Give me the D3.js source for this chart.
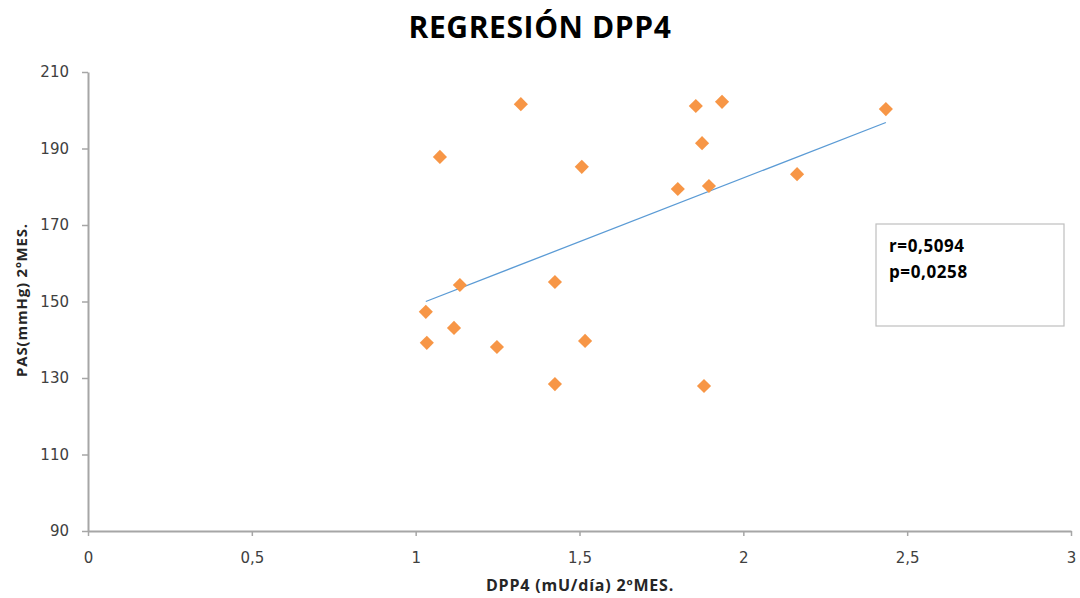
<!DOCTYPE html>
<html>
<head>
<meta charset="utf-8">
<script src="https://cdn.jsdelivr.net/npm/d3@7"></script>
<style>
  body { margin: 0; background: #fff; }
  svg { font-family: "Open Sans", "Liberation Sans", sans-serif; }
</style>
</head>
<body>
<svg width="1080" height="598"></svg>
<script>
// values
const dpp4 = [1.321, 1.855, 1.935, 2.435, 1.074, 1.874, 1.507, 1.800, 1.895, 2.164,
              1.135, 1.425, 1.031, 1.117, 1.034, 1.248, 1.517, 1.425, 1.880];
const pas = [201.6, 201.1, 202.2, 200.3, 187.8, 191.4, 185.2, 179.4, 180.2, 183.3,
             154.3, 155.1, 147.3, 143.1, 139.2, 138.1, 139.7, 128.4, 127.9];
const trendX = [1.031, 2.435];
const trendY = [150.0, 196.8];
const xTicks = [0, 0.5, 1, 1.5, 2, 2.5, 3];
const yTicks = [90, 110, 130, 150, 170, 190, 210];
const stats = ["r=0,5094", "p=0,0258"];

const svg = d3.select("svg");
const plotLeft = 88, plotRight = 1071, plotTop = 72, plotBottom = 531;

const x = d3.scaleLinear().domain([0, 3]).range([plotLeft, plotRight]);
const y = d3.scaleLinear().domain([90, 210]).range([plotBottom, plotTop]);
const fmt = d => String(d).replace(".", ",");

// axes
const xAxis = svg.append("g")
    .attr("transform", `translate(0,${plotBottom})`)
    .call(d3.axisBottom(x).tickValues(xTicks).tickFormat(fmt).tickSize(5).tickSizeOuter(0));
const yAxis = svg.append("g")
    .attr("transform", `translate(${plotLeft},0)`)
    .call(d3.axisLeft(y).tickValues(yTicks).tickSize(6).tickSizeOuter(0));

[xAxis, yAxis].forEach(a => {
  a.select(".domain").attr("stroke", "#a6a6a6").attr("stroke-width", 2);
  a.selectAll(".tick line").attr("stroke", "#a6a6a6").attr("stroke-width", 1.5);
  a.selectAll(".tick text").attr("fill", "#404040").attr("font-size", 15)
    .attr("font-family", "DejaVu Sans, sans-serif");
});
xAxis.selectAll(".tick text").attr("y", 21);
yAxis.selectAll(".tick text").attr("x", -19);

// trendline
svg.append("line")
    .attr("x1", x(trendX[0])).attr("y1", y(trendY[0]))
    .attr("x2", x(trendX[1])).attr("y2", y(trendY[1]))
    .attr("stroke", "#5b9bd5").attr("stroke-width", 1.3);

// points
svg.append("g").selectAll("path")
  .data(dpp4.map((d, i) => [d, pas[i]]))
  .join("path")
    .attr("d", d3.symbol(d3.symbolSquare, 100))
    .attr("transform", d => `translate(${x(d[0])},${y(d[1])}) rotate(45)`)
    .attr("fill", "#f79646");

// title
svg.append("text")
    .attr("x", 540).attr("y", 38)
    .attr("text-anchor", "middle")
    .attr("font-size", 30).attr("font-weight", "bold")
    .attr("letter-spacing", 0.6)
    .attr("fill", "#000")
    .text("REGRESIÓN DPP4");

// axis titles
svg.append("text")
    .attr("x", 580).attr("y", 591)
    .attr("text-anchor", "middle")
    .attr("font-size", 16).attr("font-weight", "bold")
    .attr("letter-spacing", 0.8)
    .attr("fill", "#262626")
    .text("DPP4 (mU/día) 2ºMES.");

svg.append("text")
    .attr("transform", "translate(27,300) rotate(-90)")
    .attr("text-anchor", "middle")
    .attr("font-size", 15).attr("font-weight", "bold")
    .attr("letter-spacing", 0.8)
    .attr("fill", "#262626")
    .text("PAS(mmHg) 2ºMES.");

// stats box
svg.append("rect")
    .attr("x", 876).attr("y", 224).attr("width", 188).attr("height", 102)
    .attr("fill", "#fff").attr("stroke", "#bfbfbf").attr("stroke-width", 1.2);

svg.append("g").selectAll("text")
  .data(stats)
  .join("text")
    .attr("x", 889).attr("y", (d, i) => 252 + i * 26)
    .attr("font-size", 17).attr("font-weight", "bold")
    .attr("letter-spacing", 0.6)
    .attr("fill", "#000")
    .text(d => d);
</script>
</body>
</html>
